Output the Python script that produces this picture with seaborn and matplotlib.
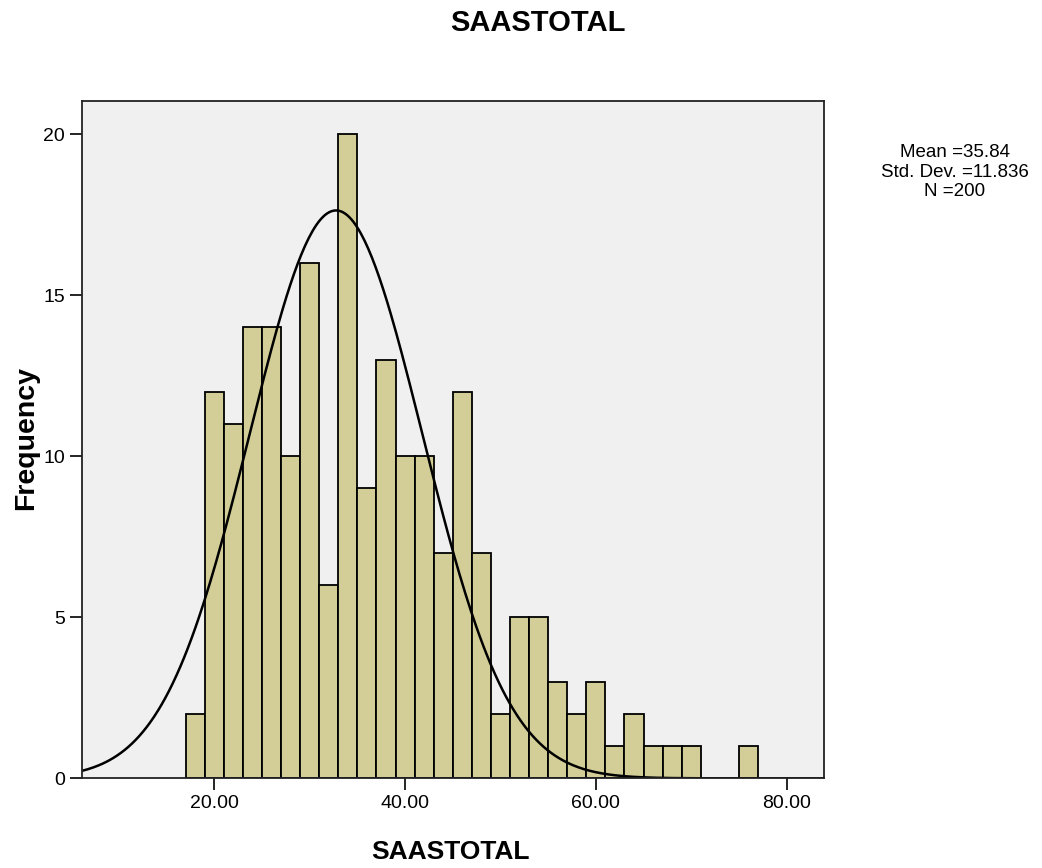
import numpy as np
import matplotlib
matplotlib.use("Agg")
import matplotlib.pyplot as plt
import seaborn as sns

# histogram counts per bin (bins of width 2 starting at 17)
bin_centers = [18, 20, 22, 24, 26, 28, 30, 32, 34, 36, 38, 40, 42, 44, 46,
               48, 50, 52, 54, 56, 58, 60, 62, 64, 66, 68, 70, 72, 74, 76]
counts = [2, 12, 11, 14, 14, 10, 16, 6, 20, 9, 13, 10, 10, 7, 12,
          7, 2, 5, 5, 3, 2, 3, 1, 2, 1, 1, 1, 0, 0, 1]
bin_edges = [17 + 2 * i for i in range(31)]

# normal curve as drawn in the chart
curve_mean = 32.76
curve_sd = 9.05
n_total = 200
bin_width = 2

x_ticks = [20, 40, 60, 80]
y_ticks = [0, 5, 10, 15, 20]
stats_text = "Mean =35.84\nStd. Dev. =11.836\nN =200"

sns.set_style("ticks")
plt.rcParams['font.family'] = ['Liberation Sans', 'DejaVu Sans']
plt.rcParams['text.color'] = 'black'
plt.rcParams['axes.labelcolor'] = 'black'
plt.rcParams['xtick.color'] = 'black'
plt.rcParams['ytick.color'] = 'black'

fig = plt.figure(figsize=(10.42, 8.68), dpi=100)
ax = fig.add_axes([0.0784, 0.1033, 0.7127, 0.7803])
ax.set_facecolor("#F0F0F0")

sns.histplot(x=bin_centers, weights=counts, bins=bin_edges, ax=ax,
             color="#D3CE97", alpha=1, edgecolor="black", linewidth=1.3)

xs = np.linspace(6.1, 83.95, 400)
ys = n_total * bin_width * np.exp(-0.5 * ((xs - curve_mean) / curve_sd) ** 2) / (curve_sd * np.sqrt(2 * np.pi))
sns.lineplot(x=xs, y=ys, ax=ax, color="black", linewidth=1.8)

ax.set_xlim(6.1, 83.95)
ax.set_ylim(0, 21.03)
ax.set_xticks(x_ticks)
ax.set_xticklabels([f"{v:.2f}" for v in x_ticks])
ax.set_yticks(y_ticks)
ax.tick_params(axis="both", length=8.5, width=1.2, labelsize=14)
for s in ax.spines.values():
    s.set_color("#222222")
    s.set_linewidth(1.3)

ax.set_xlabel("SAASTOTAL", fontsize=19, fontweight="bold", va="center")
ax.xaxis.set_label_coords(0.497, -0.1088)
ax.set_ylabel("Frequency", fontsize=20.5, fontweight="bold", va="center")
ax.yaxis.set_label_coords(-0.075, 0.503)
fig.text(0.516, 0.974, "SAASTOTAL", fontsize=21, fontweight="bold", ha="center", va="center")
fig.text(0.9165, 0.8015, stats_text, fontsize=13.5, ha="center", va="center", linespacing=1.2)

fig.savefig("out.png", dpi=100)
